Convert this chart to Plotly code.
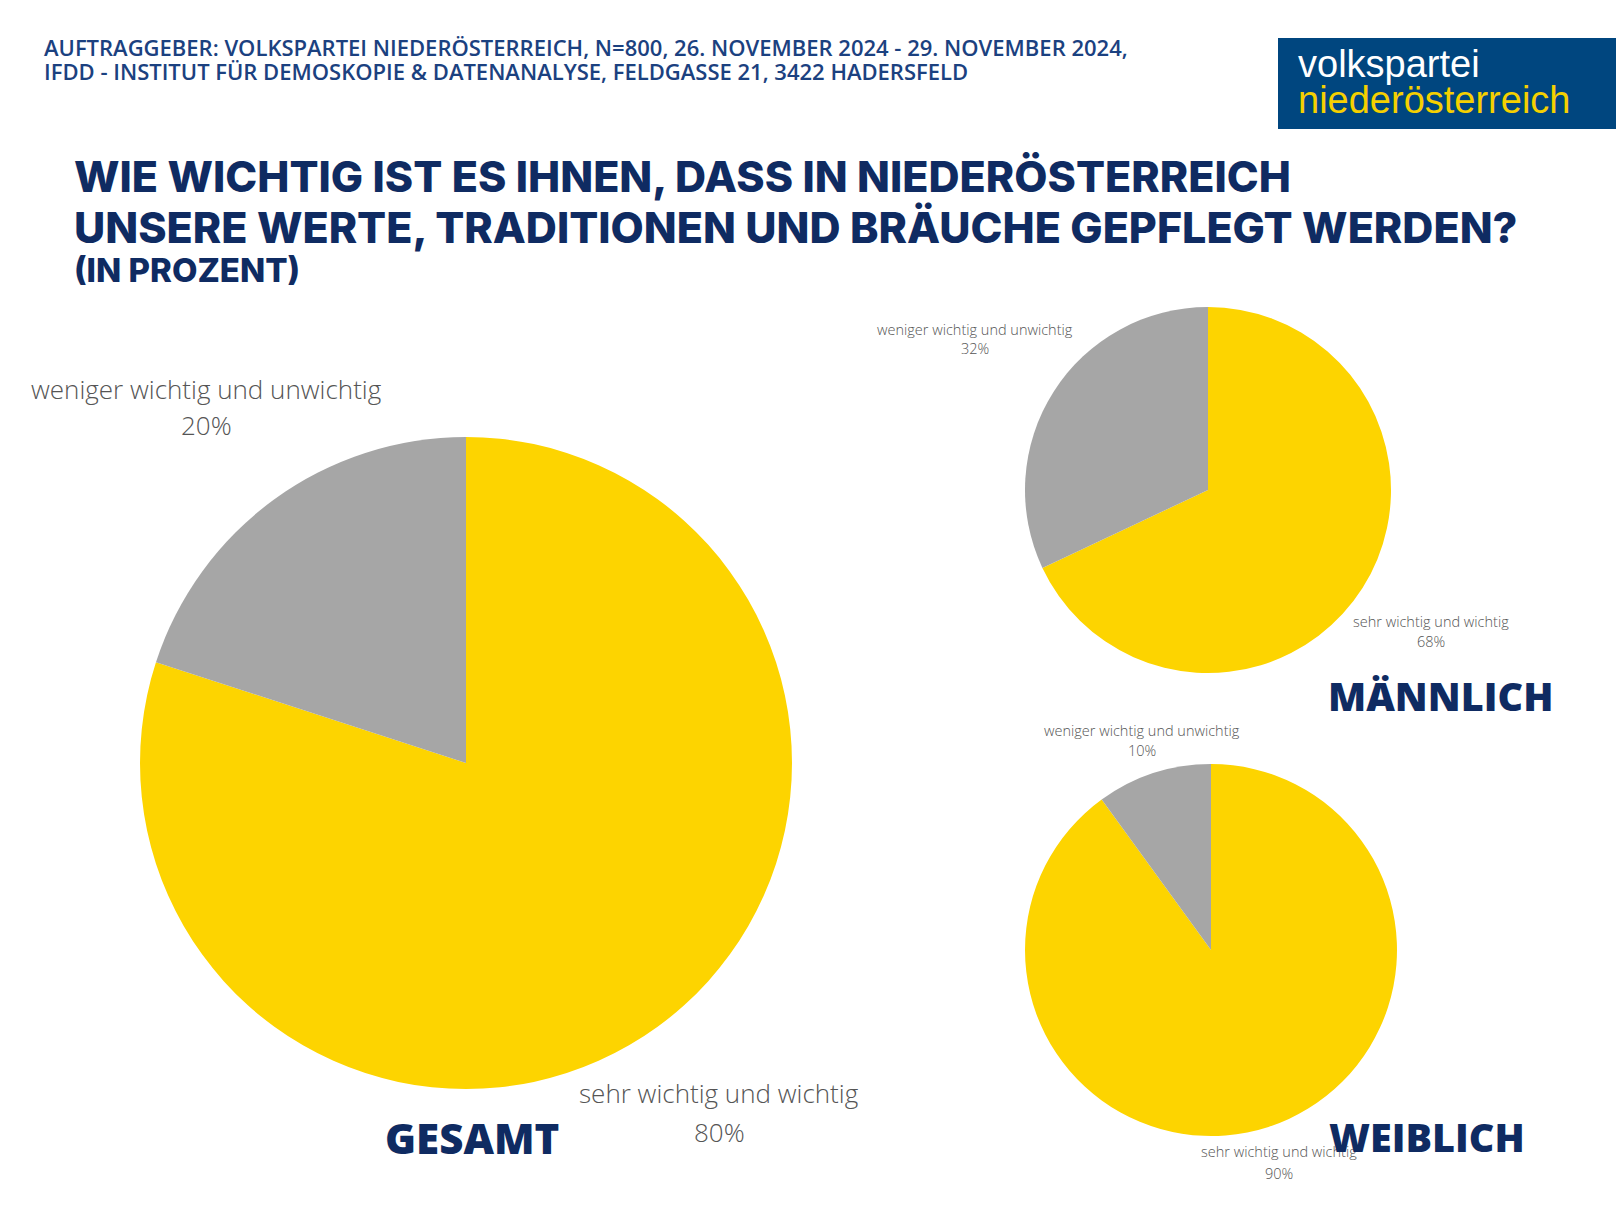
import plotly.graph_objects as go

W, H = 1616, 1212

groups = ["GESAMT", "MÄNNLICH", "WEIBLICH"]
categories = ["sehr wichtig und wichtig", "weniger wichtig und unwichtig"]
wichtig = [80, 68, 90]
unwichtig = [20, 32, 10]

header_lines = [
    "AUFTRAGGEBER: VOLKSPARTEI NIEDERÖSTERREICH, N=800, 26. NOVEMBER 2024 - 29. NOVEMBER 2024,",
    "IFDD - INSTITUT FÜR DEMOSKOPIE & DATENANALYSE, FELDGASSE 21, 3422 HADERSFELD",
]
title_lines = [
    "WIE WICHTIG IST ES IHNEN, DASS IN NIEDERÖSTERREICH",
    "UNSERE WERTE, TRADITIONEN UND BRÄUCHE GEPFLEGT WERDEN?",
]
subtitle = "(IN PROZENT)"
logo_lines = ["volkspartei", "niederösterreich"]

YELLOW = "#FDD400"
GRAY = "#A6A6A6"
NAVY = "#0F2B62"
HEAD = "#1B4180"
LOGO_BG = "#00467F"
LOGO_YELLOW = "#F5D000"
LABEL = "#555555"

# pie boxes in pixels: (x0, x1, y0, y1)
boxes = [(140, 792, 437, 1089), (1025, 1391, 307, 673), (1025, 1397, 764, 1136)]


def px(x):
    return x / W


def py(y):
    return 1 - y / H


fig = go.Figure()
for i, g in enumerate(groups):
    x0, x1, y0, y1 = boxes[i]
    fig.add_trace(go.Pie(
        labels=categories,
        values=[wichtig[i], unwichtig[i]],
        marker=dict(colors=[YELLOW, GRAY], line=dict(width=0)),
        sort=False,
        direction="clockwise",
        rotation=0,
        textinfo="none",
        hoverinfo="label+percent",
        showlegend=False,
        domain=dict(x=[px(x0), px(x1)], y=[py(y1), py(y0)]),
        name=g,
    ))

ann = []


def text(x, y, s, size, color, family, weight=400, xanchor="center"):
    ann.append(dict(x=px(x), y=py(y), xref="paper", yref="paper", text=s,
                    showarrow=False, xanchor=xanchor, yanchor="middle",
                    align=xanchor if xanchor != "center" else "center",
                    font=dict(size=size, color=color, family=family, weight=weight)))


# header: two tight lines (24px apart) rendered at 22px
header_txt = "<br>".join(f"<span style='font-size:22px'>{l}</span>" for l in header_lines)
text(42, 59, header_txt, 24 / 1.3, HEAD, "Open Sans", 600, "left")

# title
text(72, 176, title_lines[0], 43, NAVY, "Inter", 800, "left")
text(72, 227, title_lines[1], 43, NAVY, "Inter", 800, "left")
text(72, 270, subtitle, 33, NAVY, "Inter", 800, "left")

# slice labels: (group idx, category idx, center x, y line1, y line2, size)
label_pos = [
    (0, 1, 206, 389, 425, 26),
    (0, 0, 719, 1093, 1132, 26),
    (1, 1, 975, 329, 349, 14.5),
    (1, 0, 1431, 621, 641, 14.5),
    (2, 1, 1142, 730, 750, 14.5),
    (2, 0, 1279, 1151, 1173, 14.5),
]
vals = [wichtig, unwichtig]
for gi, ci, x, y1, y2, s in label_pos:
    text(x, y1, categories[ci], s, LABEL, "Open Sans", 300)
    text(x, y2, f"{vals[ci][gi]}%", s, LABEL, "Open Sans", 300)

# group names
text(472, 1137, groups[0], 42, NAVY, "Open Sans", 800)
text(1440, 696, groups[1], 39.5, NAVY, "Open Sans", 800)
text(1427, 1137, groups[2], 39.5, NAVY, "Open Sans", 800)

# logo: two lines 36px apart rendered at 38px
logo_txt = (f"<span style='font-size:38px;color:white'>{logo_lines[0]}</span><br>"
            f"<span style='font-size:38px;color:{LOGO_YELLOW}'>{logo_lines[1]}</span>")
text(1296, 82, logo_txt, 36 / 1.3, "white", "Liberation Sans", 400, "left")

fig.update_layout(
    width=W, height=H,
    margin=dict(l=0, r=0, t=0, b=0),
    paper_bgcolor="white",
    plot_bgcolor="white",
    annotations=ann,
    shapes=[dict(type="rect", xref="paper", yref="paper",
                 x0=px(1278), x1=px(1616), y0=py(129), y1=py(38),
                 fillcolor=LOGO_BG, line=dict(width=0), layer="below")],
)

fig.write_html("out.html", config={"displayModeBar": False},
               post_script="document.body.style.margin='0';")
